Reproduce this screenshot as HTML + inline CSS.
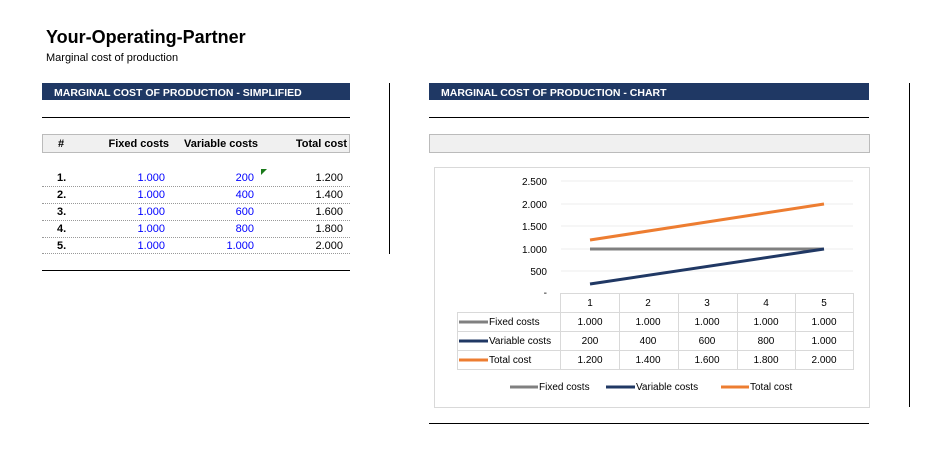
<!DOCTYPE html>
<html><head><style>
body{margin:0;width:937px;height:451px;background:#fff;font-family:"Liberation Sans",sans-serif;position:relative;overflow:hidden}
.a{position:absolute;white-space:nowrap}
.bar{position:absolute;background:#1f3864;color:#fff;font-weight:bold;font-size:10.5px;height:17px;line-height:20px;padding-left:12px;box-sizing:border-box;overflow:hidden}
.hl{position:absolute;height:1px;background:#000}
.r{text-align:right}
.v{color:#0000ff}
.dot{position:absolute;left:42px;width:308px;border-top:1px dotted #999}
</style></head><body>
<div class="a" style="left:46px;top:27px;font-size:18px;font-weight:bold">Your-Operating-Partner</div>
<div class="a" style="left:46px;top:52px;font-size:11px">Marginal cost of production</div>

<div class="bar" style="left:42px;top:83px;width:308px">MARGINAL COST OF PRODUCTION - SIMPLIFIED</div>
<div class="hl" style="left:42px;top:117px;width:308px"></div>
<div class="a" style="left:42px;top:134px;width:306px;height:17px;background:#f0f0f0;border:1px solid #bbb"></div>
<div class="a" style="left:58px;top:138px;font-size:11px;font-weight:bold">#</div>
<div class="a r" style="left:90px;width:79px;top:138px;font-size:11px;font-weight:bold">Fixed costs</div>
<div class="a r" style="left:170px;width:88px;top:138px;font-size:11px;font-weight:bold">Variable costs</div>
<div class="a r" style="left:270px;width:77px;top:138px;font-size:11px;font-weight:bold">Total cost</div>
<div class="a" style="left:261px;top:169px;width:0;height:0;border-top:6px solid #1a7a1a;border-right:6px solid transparent"></div>

<div class="a" style="left:0;top:170px;font-size:11px;line-height:17px">
<div style="position:absolute;left:57px;font-weight:bold">1.<br>2.<br>3.<br>4.<br>5.</div>
<div class="r v" style="position:absolute;left:100px;width:65px">1.000<br>1.000<br>1.000<br>1.000<br>1.000</div>
<div class="r v" style="position:absolute;left:190px;width:64px">200<br>400<br>600<br>800<br>1.000</div>
<div class="r" style="position:absolute;left:280px;width:63px">1.200<br>1.400<br>1.600<br>1.800<br>2.000</div>
</div>
<div class="dot" style="top:186px"></div><div class="dot" style="top:203px"></div><div class="dot" style="top:220px"></div><div class="dot" style="top:237px"></div><div class="dot" style="top:253px"></div>
<div class="hl" style="left:42px;top:270px;width:308px"></div>
<div class="a" style="left:389px;top:83px;width:1px;height:171px;background:#000"></div>

<div class="bar" style="left:429px;top:83px;width:440px">MARGINAL COST OF PRODUCTION - CHART</div>
<div class="hl" style="left:429px;top:117px;width:440px"></div>
<div class="a" style="left:429px;top:134px;width:439px;height:17px;background:#f0f0f0;border:1px solid #bbb"></div>
<div class="hl" style="left:429px;top:423px;width:440px"></div>
<div class="a" style="left:909px;top:83px;width:1px;height:324px;background:#000"></div>

<svg class="a" style="left:0;top:0" width="937" height="451" font-family="Liberation Sans, sans-serif" font-size="10">
<rect x="434.5" y="167.5" width="435" height="240" fill="none" stroke="#d9d9d9"/>
<g stroke="#eee"><line x1="561" x2="853" y1="181" y2="181"/><line x1="561" x2="853" y1="204" y2="204"/><line x1="561" x2="853" y1="226" y2="226"/><line x1="561" x2="853" y1="249" y2="249"/><line x1="561" x2="853" y1="271" y2="271"/></g>
<g text-anchor="end" fill="#000"><text x="547" y="185">2.500</text><text x="547" y="208">2.000</text><text x="547" y="230">1.500</text><text x="547" y="253">1.000</text><text x="547" y="275">500</text><text x="547" y="296">-</text></g>
<polyline points="590,249 824,249" stroke="#808080" stroke-width="3" fill="none"/>
<polyline points="590,284 824,249" stroke="#203864" stroke-width="3" fill="none"/>
<polyline points="590,240 824,204" stroke="#ed7d31" stroke-width="3" fill="none"/>
<g stroke="#d9d9d9" fill="none">
<line x1="561" x2="853" y1="293.5" y2="293.5"/><line x1="457" x2="853" y1="312.5" y2="312.5"/><line x1="457" x2="853" y1="331.5" y2="331.5"/><line x1="457" x2="853" y1="350.5" y2="350.5"/><line x1="457" x2="853" y1="369.5" y2="369.5"/>
<line x1="457.5" x2="457.5" y1="312" y2="370"/><line x1="560.5" x2="560.5" y1="293" y2="370"/><line x1="619.5" x2="619.5" y1="293" y2="370"/><line x1="678.5" x2="678.5" y1="293" y2="370"/><line x1="737.5" x2="737.5" y1="293" y2="370"/><line x1="795.5" x2="795.5" y1="293" y2="370"/><line x1="853.5" x2="853.5" y1="293" y2="370"/>
</g>
<g text-anchor="middle">
<text x="590" y="306">1</text><text x="648" y="306">2</text><text x="707" y="306">3</text><text x="766" y="306">4</text><text x="824" y="306">5</text>
<text x="590" y="325">1.000</text><text x="648" y="325">1.000</text><text x="707" y="325">1.000</text><text x="766" y="325">1.000</text><text x="824" y="325">1.000</text>
<text x="590" y="344">200</text><text x="648" y="344">400</text><text x="707" y="344">600</text><text x="766" y="344">800</text><text x="824" y="344">1.000</text>
<text x="590" y="363">1.200</text><text x="648" y="363">1.400</text><text x="707" y="363">1.600</text><text x="766" y="363">1.800</text><text x="824" y="363">2.000</text>
</g>
<line x1="459" x2="488" y1="322" y2="322" stroke="#808080" stroke-width="3"/><text x="489" y="325">Fixed costs</text>
<line x1="459" x2="488" y1="341" y2="341" stroke="#203864" stroke-width="3"/><text x="489" y="344">Variable costs</text>
<line x1="459" x2="488" y1="360" y2="360" stroke="#ed7d31" stroke-width="3"/><text x="489" y="363">Total cost</text>
<line x1="510" x2="538" y1="387" y2="387" stroke="#808080" stroke-width="3"/><text x="539" y="390">Fixed costs</text>
<line x1="606" x2="635" y1="387" y2="387" stroke="#203864" stroke-width="3"/><text x="636" y="390">Variable costs</text>
<line x1="721" x2="749" y1="387" y2="387" stroke="#ed7d31" stroke-width="3"/><text x="750" y="390">Total cost</text>
</svg>
</body></html>
